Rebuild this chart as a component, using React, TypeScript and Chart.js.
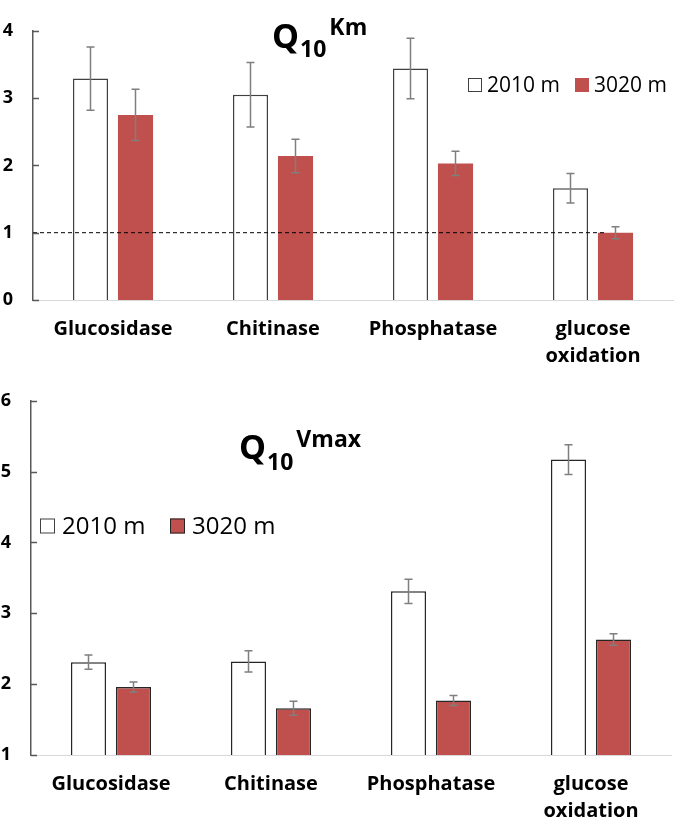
import React, { useEffect, useRef } from "react";
import { Chart, registerables } from "chart.js";

Chart.register(...registerables);

// ---------- data ----------
const categories: (string | string[])[] = ["Glucosidase", "Chitinase", "Phosphatase", ["glucose", "oxidation"]];
const seriesLabels = ["2010 m", "3020 m"];

const km2010 = [3.29, 3.05, 3.44, 1.66];
const km2010Err = [0.47, 0.48, 0.45, 0.22];
const km3020 = [2.75, 2.14, 2.03, 1.0];
const km3020Err = [0.38, 0.25, 0.18, 0.09];

const vmax2010 = [2.31, 2.32, 3.31, 5.17];
const vmax2010Err = [0.1, 0.15, 0.17, 0.21];
const vmax3020 = [1.96, 1.66, 1.77, 2.63];
const vmax3020Err = [0.07, 0.1, 0.07, 0.08];

const kmTickRange = [0, 4];
const vmaxTickRange = [1, 6];
const referenceValue = 1;

const titleMain = "Q";
const titleSub = "10";
const kmSup = "Km";
const vmaxSup = "Vmax";

// ---------- styles ----------
const RED = "#C0504D";
const FONT = "'Open Sans', Lato, sans-serif";

// ---------- plugins ----------
const errorBarPlugin = {
  id: "errorBars",
  afterDatasetsDraw(chart: any, _args: any, opts: any) {
    const { ctx } = chart;
    const y = chart.scales.y;
    chart.data.datasets.forEach((ds: any, i: number) => {
      const meta = chart.getDatasetMeta(i);
      const errs = opts.errors[i];
      meta.data.forEach((bar: any, j: number) => {
        const v = ds.data[j];
        const e = errs[j];
        const top = y.getPixelForValue(v + e);
        const bot = y.getPixelForValue(v - e);
        const c = opts.cap;
        ctx.save();
        ctx.strokeStyle = opts.color;
        ctx.lineWidth = opts.width;
        ctx.beginPath();
        ctx.moveTo(bar.x, top);
        ctx.lineTo(bar.x, bot);
        ctx.moveTo(bar.x - c, top);
        ctx.lineTo(bar.x + c, top);
        ctx.moveTo(bar.x - c, bot);
        ctx.lineTo(bar.x + c, bot);
        ctx.stroke();
        ctx.restore();
      });
    });
  },
};

const refLinePlugin = {
  id: "refLine",
  afterDatasetsDraw(chart: any, _args: any, opts: any) {
    if (!opts || !opts.enabled) return;
    const { ctx, chartArea } = chart;
    const y = chart.scales.y;
    const x = chart.scales.x;
    const py = y.getPixelForValue(opts.value);
    const endX = x.getPixelForValue(categories.length - 1) + opts.endOffset;
    ctx.save();
    ctx.strokeStyle = "#000";
    ctx.lineWidth = 1;
    ctx.setLineDash([4, 3]);
    ctx.beginPath();
    ctx.moveTo(chartArea.left, py);
    ctx.lineTo(endX, py);
    ctx.stroke();
    ctx.restore();
  },
};

const innerTickPlugin = {
  id: "innerTicks",
  afterDraw(chart: any, _args: any, opts: any) {
    const { ctx, chartArea } = chart;
    const y = chart.scales.y;
    ctx.save();
    ctx.strokeStyle = opts.color;
    ctx.lineWidth = 1.5;
    ctx.beginPath();
    y.ticks.forEach((t: any) => {
      const py = Math.round(y.getPixelForValue(t.value)) + 0.5;
      ctx.moveTo(chartArea.left, py);
      ctx.lineTo(chartArea.left + opts.length, py);
    });
    ctx.stroke();
    ctx.restore();
  },
};

const titlePlugin = {
  id: "qTitle",
  afterDraw(chart: any, _args: any, o: any) {
    const { ctx } = chart;
    ctx.save();
    ctx.fillStyle = "#000";
    ctx.textBaseline = "alphabetic";
    ctx.textAlign = "left";
    ctx.font = `bold ${o.mainSize}px ${FONT}`;
    ctx.fillText(titleMain, o.x, o.y);
    const w1 = ctx.measureText(titleMain).width;
    ctx.font = `bold ${o.subSize}px ${FONT}`;
    ctx.fillText(titleSub, o.x + w1 + o.gap1, o.y + o.subDy);
    const w2 = ctx.measureText(titleSub).width;
    ctx.font = `bold ${o.supSize}px ${FONT}`;
    ctx.fillText(o.sup, o.x + w1 + o.gap1 + w2 + o.gap2, o.y + o.supDy);
    ctx.restore();
  },
};

const boxLegendPlugin = {
  id: "boxLegend",
  afterDraw(chart: any, _args: any, o: any) {
    const { ctx } = chart;
    ctx.save();
    ctx.font = `${o.fontSize}px ${FONT}`;
    ctx.textBaseline = "middle";
    ctx.textAlign = "left";
    chart.data.datasets.forEach((ds: any, i: number) => {
      const bx = o.xs[i];
      ctx.fillStyle = ds.backgroundColor;
      ctx.fillRect(bx, o.y - o.box / 2, o.box, o.box);
      if (o.borders[i]) {
        ctx.strokeStyle = o.borders[i];
        ctx.lineWidth = 1;
        ctx.strokeRect(bx + 0.5, o.y - o.box / 2 + 0.5, o.box - 1, o.box - 1);
      }
      ctx.fillStyle = "#000";
      ctx.fillText(ds.label, bx + o.box + o.textGap, o.y + 1);
    });
    ctx.restore();
  },
};

function makeConfig(p: {
  d1: number[]; d2: number[]; e1: number[]; e2: number[];
  range: number[]; height: number; top: number; bottom: number; left: number; right: number;
  border2: string | null; border1: string; title: any; legend: any; refLine: boolean;
}) {
  return {
    type: "bar",
    data: {
      labels: categories,
      datasets: [
        {
          label: seriesLabels[0],
          data: p.d1,
          backgroundColor: "#FFFFFF",
          borderColor: p.border1,
          borderWidth: 1.5,
        },
        {
          label: seriesLabels[1],
          data: p.d2,
          backgroundColor: RED,
          borderColor: p.border2 || RED,
          borderWidth: p.border2 ? 1.5 : 0,
        },
      ],
    },
    options: {
      responsive: false,
      animation: false,
      devicePixelRatio: 1,
      layout: { padding: { top: p.top, left: 0, right: 675 - p.right, bottom: 0 } },
      datasets: { bar: { categoryPercentage: 0.5625, barPercentage: 0.78 } },
      plugins: {
        legend: { display: false },
        title: { display: false },
        tooltip: { enabled: false },
        errorBars: { errors: [p.e1, p.e2], color: "#7F7F7F", width: 1.5, cap: 4 },
        refLine: { enabled: p.refLine, value: referenceValue, endOffset: 14 },
        innerTicks: { color: "#595959", length: 6 },
        qTitle: p.title,
        boxLegend: p.legend,
      },
      scales: {
        x: {
          grid: { display: false, drawTicks: false },
          border: { display: true, color: "#D9D9D9", width: 1 },
          ticks: {
            color: "#000",
            font: { family: FONT, size: 20, weight: "bold", lineHeight: 1.35 },
            padding: 16,
            maxRotation: 0,
            autoSkip: false,
          },
          afterFit(scale: any) {
            scale.height = p.height - p.bottom;
          },
        },
        y: {
          min: p.range[0],
          max: p.range[1],
          grid: { display: false, drawTicks: false },
          border: { display: true, color: "#595959", width: 1.5 },
          ticks: {
            stepSize: 1,
            color: "#000",
            font: { family: FONT, size: 18, weight: "bold" },
            padding: 20,
          },
          afterFit(scale: any) {
            scale.width = p.left;
          },
        },
      },
    },
    plugins: [errorBarPlugin, refLinePlugin, innerTickPlugin, titlePlugin, boxLegendPlugin],
  } as any;
}

const TOP_H = 370;
const BOT_H = 454;

export default function App() {
  const topRef = useRef<HTMLCanvasElement>(null);
  const botRef = useRef<HTMLCanvasElement>(null);

  useEffect(() => {
    document.body.style.margin = "0";
    const c1 = new Chart(
      topRef.current as HTMLCanvasElement,
      makeConfig({
        d1: km2010, d2: km3020, e1: km2010Err, e2: km3020Err,
        range: kmTickRange, height: TOP_H, top: 8, bottom: 300, left: 33, right: 673,
        border1: "#404040", border2: null, refLine: true,
        title: { x: 272, y: 48, mainSize: 34, subSize: 23, supSize: 23, subDy: 9, supDy: -13, gap1: 1, gap2: 3, sup: kmSup },
        legend: { xs: [468, 575], y: 85, box: 14, textGap: 5, fontSize: 21, borders: ["#404040", null] },
      })
    );
    const c2 = new Chart(
      botRef.current as HTMLCanvasElement,
      makeConfig({
        d1: vmax2010, d2: vmax3020, e1: vmax2010Err, e2: vmax3020Err,
        range: vmaxTickRange, height: BOT_H, top: 30, bottom: 385, left: 31, right: 671,
        border1: "#262626", border2: "#262626", refLine: false,
        title: { x: 239, y: 459 - TOP_H, mainSize: 34, subSize: 23, supSize: 23, subDy: 11, supDy: -12, gap1: 1, gap2: 3, sup: vmaxSup },
        legend: { xs: [40, 170], y: 526 - TOP_H, box: 15, textGap: 7, fontSize: 24, borders: ["#404040", "#262626"] },
      })
    );
    return () => {
      c1.destroy();
      c2.destroy();
    };
  }, []);

  return (
    <div style={{ width: 675, height: 824, background: "#fff" }}>
      <canvas ref={topRef} width={675} height={TOP_H} style={{ display: "block", width: 675, height: TOP_H }} />
      <canvas ref={botRef} width={675} height={BOT_H} style={{ display: "block", width: 675, height: BOT_H }} />
    </div>
  );
}
